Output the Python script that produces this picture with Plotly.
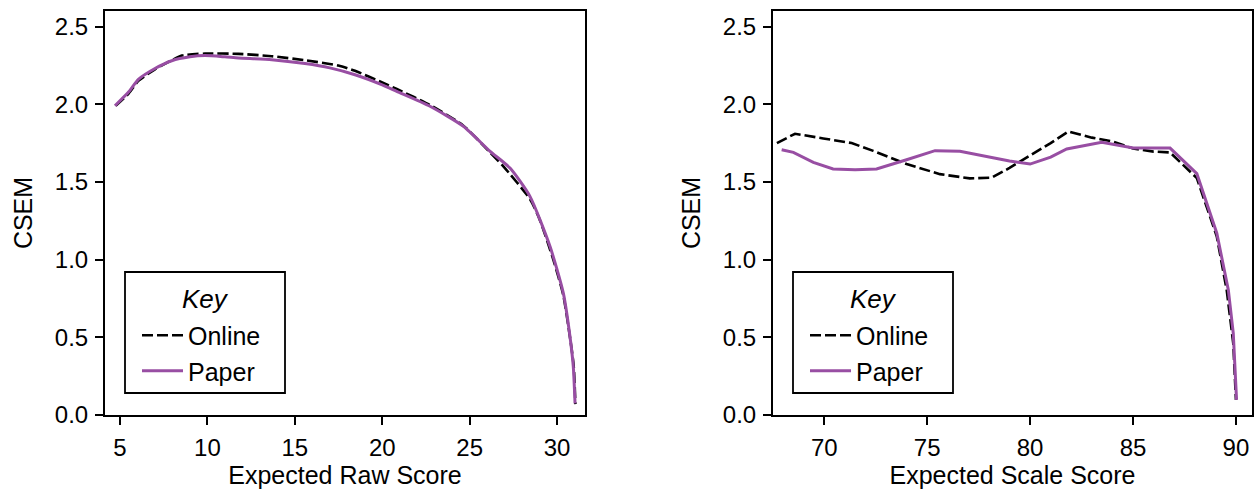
import plotly.graph_objects as go

# Conditional standard error of measurement (CSEM) by expected score
raw_online_x = [4.75, 5.5, 6.05, 7.0, 8.0, 8.53, 9.86, 11.77, 13.68, 15.58, 17.49, 18.44,
                20.0, 20.83, 22.73, 24.64, 26.17, 26.93, 28.45, 29.0, 29.79, 30.36, 30.74,
                30.95, 31.05]
raw_online_y = [1.99, 2.07, 2.15, 2.225, 2.285, 2.313, 2.326, 2.324, 2.309, 2.283, 2.249, 2.215,
                2.14, 2.098, 1.995, 1.862, 1.69, 1.60, 1.39, 1.26, 0.999, 0.77, 0.50,
                0.32, 0.07]

raw_paper_x = [4.71, 5.5, 6.05, 7.0, 7.96, 9.0, 9.86, 11.0, 11.77, 13.68, 15.58, 17.0, 18.44,
               20.0, 20.83, 22.73, 24.64, 26.17, 27.31, 28.45, 29.6, 30.36, 30.74, 30.93, 31.03]
raw_paper_y = [1.99, 2.08, 2.16, 2.23, 2.28, 2.305, 2.313, 2.305, 2.298, 2.287, 2.262, 2.234, 2.19,
               2.125, 2.083, 1.987, 1.858, 1.697, 1.589, 1.407, 1.084, 0.784, 0.505, 0.311, 0.075]

scale_online_x = [67.7, 68.58, 69.95, 71.33, 72.38, 74.0, 75.62, 77.07, 78.13, 79.0, 80.0, 81.0,
                  81.86, 83.0, 84.0, 85.0, 86.0, 86.8, 88.1, 89.07, 89.55, 89.87, 90.0]
scale_online_y = [1.75, 1.81, 1.78, 1.75, 1.70, 1.615, 1.55, 1.523, 1.527, 1.59, 1.67, 1.75,
                  1.825, 1.785, 1.76, 1.715, 1.695, 1.69, 1.525, 1.149, 0.805, 0.46, 0.097]

scale_paper_x = [67.93, 68.5, 69.47, 70.43, 71.5, 72.54, 74.0, 75.38, 76.59, 78.05, 79.0, 80.0,
                 81.0, 81.78, 82.43, 83.48, 85.02, 86.8, 88.1, 89.07, 89.63, 89.87, 90.03]
scale_paper_y = [1.707, 1.69, 1.626, 1.583, 1.578, 1.583, 1.643, 1.701, 1.697, 1.658, 1.635, 1.615,
                 1.66, 1.712, 1.729, 1.755, 1.718, 1.718, 1.553, 1.17, 0.805, 0.526, 0.097]

raw_ticks = [5, 10, 15, 20, 25, 30]
scale_ticks = [70, 75, 80, 85, 90]
csem_ticks = [0.0, 0.5, 1.0, 1.5, 2.0, 2.5]

FONT = "Liberation Sans, Arial, sans-serif"
PURPLE = "#984ea3"
online_line = dict(color="black", width=2.6, dash="11px,4px")
paper_line = dict(color=PURPLE, width=3)

W, H = 1254, 489


def px(x):
    return x / W


def py(y):
    return (H - y) / H


fig = go.Figure()
fig.add_trace(go.Scatter(x=raw_online_x, y=raw_online_y, mode="lines", name="Online",
                         line=dict(**online_line, shape="spline", smoothing=0.6),
                         xaxis="x", yaxis="y", legend="legend"))
fig.add_trace(go.Scatter(x=raw_paper_x, y=raw_paper_y, mode="lines", name="Paper",
                         line=dict(**paper_line, shape="spline", smoothing=0.6),
                         xaxis="x", yaxis="y", legend="legend"))
fig.add_trace(go.Scatter(x=scale_online_x, y=scale_online_y, mode="lines", name="Online",
                         line=online_line, xaxis="x2", yaxis="y2", legend="legend2"))
fig.add_trace(go.Scatter(x=scale_paper_x, y=scale_paper_y, mode="lines", name="Paper",
                         line=paper_line, xaxis="x2", yaxis="y2", legend="legend2"))

top, bottom = 11, 415
ydom = [py(bottom), py(top)]

axis_common = dict(showline=True, linecolor="black", linewidth=2, mirror=True,
                   ticks="outside", ticklen=8, tickwidth=1.8, tickcolor="black",
                   showgrid=False, zeroline=False, automargin=False,
                   ticklabelstandoff=2,
                   tickfont=dict(family=FONT, size=24, color="black"),
                   title_font=dict(family=FONT, size=25, color="black"))

legend_common = dict(
    font=dict(family=FONT, size=25, color="black"),
    borderwidth=0, bgcolor="rgba(0,0,0,0)",
    itemwidth=41, tracegroupgap=0, xanchor="left", yanchor="middle",
)

# key boxes (left panel, right panel) in pixel coordinates
key_boxes = [(125, 272, 285, 393), (793, 272, 953, 393)]
shapes, annotations = [], []
for (x0, y0, x1, y1) in key_boxes:
    shapes.append(dict(type="rect", xref="paper", yref="paper",
                       x0=px(x0), x1=px(x1), y0=py(y1), y1=py(y0),
                       line=dict(color="black", width=1.8), fillcolor="white", layer="below"))
    annotations.append(dict(text="<i>Key</i>", xref="paper", yref="paper",
                            x=px((x0 + x1) / 2), y=py(299), xanchor="center", yanchor="middle",
                            showarrow=False, font=dict(family=FONT, size=26, color="black")))

fig.update_layout(
    width=W, height=H,
    margin=dict(l=0, r=0, t=0, b=0),
    paper_bgcolor="white", plot_bgcolor="white",
    showlegend=True,
    xaxis=dict(domain=[px(105), px(585)], range=[4.14, 31.6], tickvals=raw_ticks,
               title=dict(text="Expected Raw Score", standoff=5), anchor="y", **axis_common),
    yaxis=dict(domain=ydom, range=[0, 2.6], tickvals=csem_ticks, tickformat=".1f",
               title=dict(text="CSEM", standoff=15), anchor="x", **axis_common),
    xaxis2=dict(domain=[px(773), px(1252)], range=[67.51, 90.78], tickvals=scale_ticks,
                title=dict(text="Expected Scale Score", standoff=5), anchor="y2", **axis_common),
    yaxis2=dict(domain=ydom, range=[0, 2.6], tickvals=csem_ticks, tickformat=".1f",
                title=dict(text="CSEM", standoff=15), anchor="x2", **axis_common),
    legend=dict(x=px(137), y=py(353), **legend_common),
    legend2=dict(x=px(805), y=py(353), **legend_common),
    shapes=shapes,
    annotations=annotations,
)

fig.write_html("out.html")
